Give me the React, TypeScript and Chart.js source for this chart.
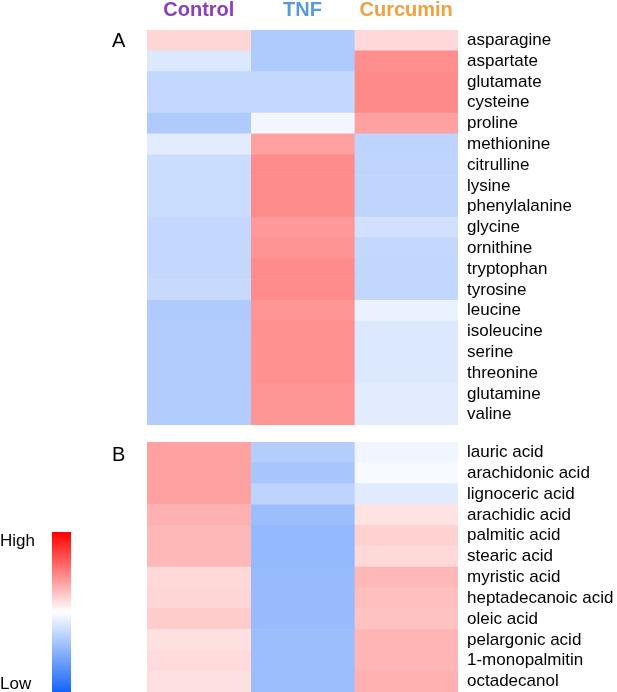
import React, { useEffect, useRef } from "react";
import { Chart, registerables } from "chart.js";

Chart.register(...registerables);

const FONT = "'Liberation Sans', Arial, Helvetica, sans-serif";

const groups = ["Control", "TNF", "Curcumin"];
const groupColors = ["#8b40bb", "#5b9bd5", "#f0a040"];

const aminoAcids = [
  "asparagine", "aspartate", "glutamate", "cysteine", "proline", "methionine",
  "citrulline", "lysine", "phenylalanine", "glycine", "ornithine", "tryptophan",
  "tyrosine", "leucine", "isoleucine", "serine", "threonine", "glutamine", "valine",
];
const aminoControl = [0.16, -0.15, -0.25, -0.25, -0.34, -0.12, -0.22, -0.22, -0.22, -0.25, -0.25, -0.25, -0.24, -0.34, -0.33, -0.33, -0.33, -0.33, -0.33];
const aminoTNF = [-0.34, -0.34, -0.25, -0.25, -0.06, 0.37, 0.45, 0.45, 0.45, 0.4, 0.42, 0.45, 0.45, 0.41, 0.43, 0.43, 0.43, 0.41, 0.41];
const aminoCurcumin = [0.15, 0.44, 0.46, 0.46, 0.37, -0.28, -0.27, -0.27, -0.27, -0.2, -0.25, -0.26, -0.26, -0.09, -0.15, -0.15, -0.15, -0.12, -0.12];

const fattyAcids = [
  "lauric acid", "arachidonic acid", "lignoceric acid", "arachidic acid",
  "palmitic acid", "stearic acid", "myristic acid", "heptadecanoic acid",
  "oleic acid", "pelargonic acid", "1-monopalmitin", "octadecanol",
];
const fattyControl = [0.37, 0.37, 0.37, 0.31, 0.28, 0.28, 0.15, 0.16, 0.2, 0.12, 0.14, 0.12];
const fattyTNF = [-0.32, -0.37, -0.28, -0.42, -0.45, -0.45, -0.44, -0.44, -0.44, -0.42, -0.42, -0.42];
const fattyCurcumin = [-0.064, -0.034, -0.13, 0.11, 0.18, 0.15, 0.28, 0.25, 0.24, 0.29, 0.29, 0.31];

const LOW = [20, 100, 250];

function heatColor(v: number): string {
  if (v >= 0) {
    const c = Math.round(255 * (1 - v));
    return `rgb(255,${c},${c})`;
  }
  const t = -v;
  const r = Math.round(255 + (LOW[0] - 255) * t);
  const g = Math.round(255 + (LOW[1] - 255) * t);
  const b = Math.round(255 + (LOW[2] - 255) * t);
  return `rgb(${r},${g},${b})`;
}

function makeConfig(labels: string[], cols: number[][], showHeader: boolean, padTop: number, padBottom: number): any {
  return {
    type: "bar",
    data: {
      labels,
      datasets: cols.map((vals, ci) => ({
        label: groups[ci],
        data: vals.map(() => [ci, ci + 1]),
        backgroundColor: vals.map((v) => heatColor(v)),
        borderWidth: 0,
        categoryPercentage: 1,
        barPercentage: 1,
        grouped: false,
      })),
    },
    options: {
      indexAxis: "y",
      animation: false,
      responsive: false,
      maintainAspectRatio: false,
      events: [],
      layout: { padding: { left: 147, right: 0, top: padTop, bottom: padBottom } },
      plugins: { legend: { display: false }, tooltip: { enabled: false }, title: { display: false } },
      scales: {
        x: {
          type: "linear",
          position: "top",
          display: showHeader,
          min: 0,
          max: 3,
          grid: { display: false, drawTicks: false },
          border: { display: false },
          afterBuildTicks: (axis: any) => {
            axis.ticks = [0.5, 1.5, 2.5].map((value) => ({ value }));
          },
          afterFit: (s: any) => {
            s.height = showHeader ? 30 : 0;
            s.paddingLeft = 0;
            s.paddingRight = 0;
          },
          ticks: {
            autoSkip: false,
            maxRotation: 0,
            padding: 8,
            callback: (_v: any, i: number) => groups[i],
            color: (ctx: any) => groupColors[ctx.index],
            font: { family: FONT, size: 20, weight: "bold" },
          },
        },
        y: {
          type: "category",
          position: "right",
          grid: { display: false, drawTicks: false },
          border: { display: false },
          afterFit: (s: any) => {
            s.width = 159;
            s.paddingTop = 0;
            s.paddingBottom = 0;
          },
          ticks: {
            autoSkip: false,
            padding: 9,
            color: "#000",
            font: { family: FONT, size: 17 },
          },
        },
      },
    },
  };
}

export default function App() {
  const refA = useRef<HTMLCanvasElement>(null);
  const refB = useRef<HTMLCanvasElement>(null);

  useEffect(() => {
    document.body.style.margin = "0";
    const a = new Chart(refA.current!, makeConfig(aminoAcids, [aminoControl, aminoTNF, aminoCurcumin], true, 0, 5));
    const b = new Chart(refB.current!, makeConfig(fattyAcids, [fattyControl, fattyTNF, fattyCurcumin], false, 12, 0));
    return () => {
      a.destroy();
      b.destroy();
    };
  }, []);

  const letter: React.CSSProperties = {
    position: "absolute",
    fontFamily: FONT,
    fontSize: 20,
    lineHeight: "20px",
    color: "#000",
  };

  return (
    <div style={{ position: "relative", width: 617, height: 692, background: "#fff", overflow: "hidden" }}>
      <canvas ref={refA} width={617} height={430} style={{ position: "absolute", left: 0, top: 0 }} />
      <canvas ref={refB} width={617} height={262} style={{ position: "absolute", left: 0, top: 430 }} />
      <div style={{ ...letter, left: 112, top: 30 }}>A</div>
      <div style={{ ...letter, left: 112, top: 444 }}>B</div>
      <div
        style={{
          position: "absolute",
          left: 52,
          top: 532,
          width: 19,
          height: 160,
          background: `linear-gradient(to bottom, #ff0000 0%, #ffffff 50%, rgb(${LOW.join(",")}) 100%)`,
        }}
      />
      <div style={{ position: "absolute", left: 0, top: 531, fontFamily: FONT, fontSize: 17, lineHeight: "20px" }}>High</div>
      <div style={{ position: "absolute", left: 0, top: 674, fontFamily: FONT, fontSize: 17, lineHeight: "20px" }}>Low</div>
    </div>
  );
}
